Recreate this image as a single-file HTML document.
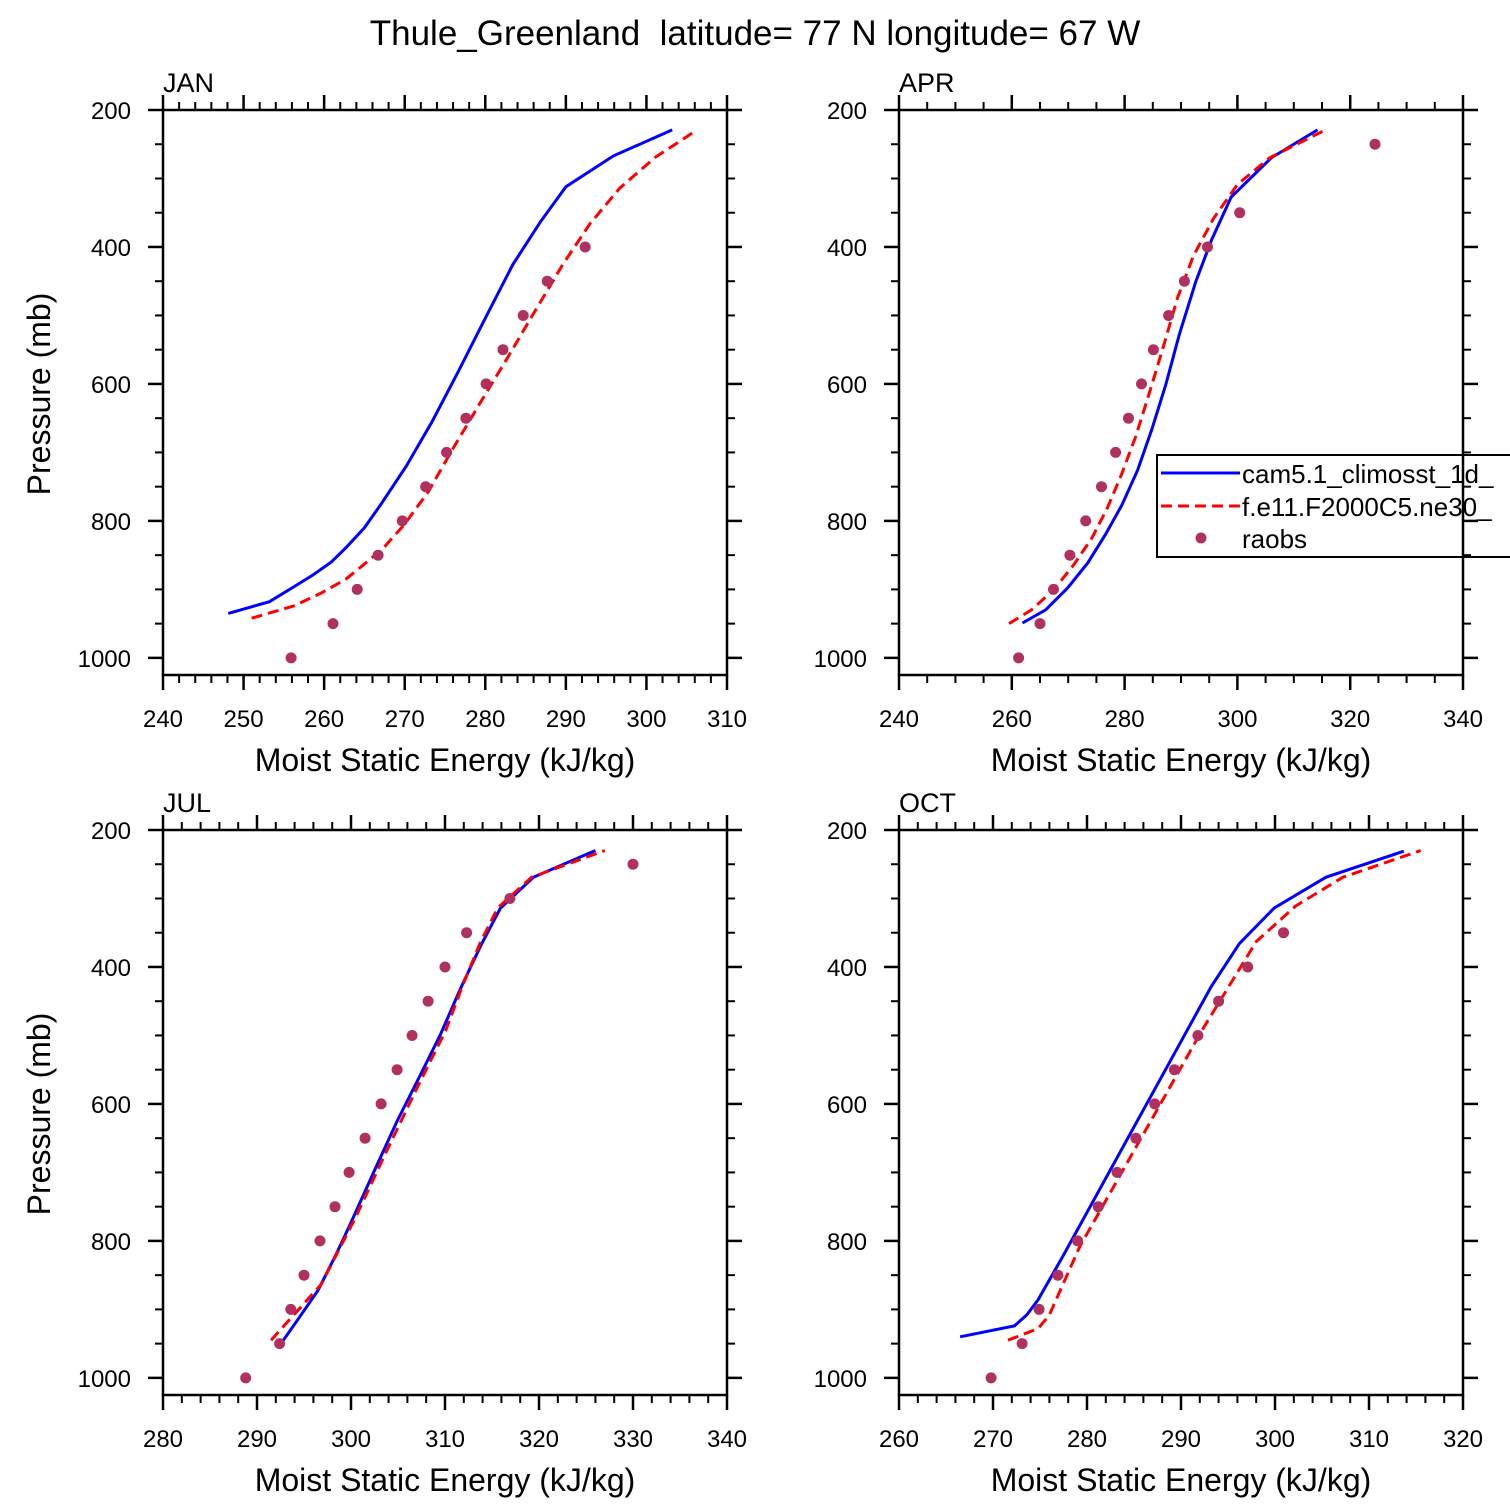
<!DOCTYPE html>
<html><head><meta charset="utf-8"><style>
html,body{margin:0;padding:0;background:#fff;}
svg{display:block;font-family:"Liberation Sans",Arial,sans-serif;}
</style></head><body>
<svg id="chart" width="1510" height="1510" viewBox="0 0 1510 1510" xmlns="http://www.w3.org/2000/svg">
<text x="755" y="45" font-size="35" text-anchor="middle" xml:space="preserve">Thule_Greenland  latitude= 77 N longitude= 67 W</text>
<g id="panels"></g>
</svg>
<script>
// ---- data (pressure in mb, MSE in kJ/kg) ----
const months = ["JAN","APR","JUL","OCT"];
const obsP = [1000,950,900,850,800,750,700,650,600,550,500,450,400,350,300,250];
// JAN
const janCamP = [935,918,898,879,860,838,810,775,720,655,583,504,426,364,312,267,229];
const janCamX = [248.1,253.2,256.0,258.6,260.9,262.8,265.0,267.1,270.2,273.4,276.6,280.0,283.4,286.8,290.0,295.9,303.2];
const janF11P = [942,924,905,885,864,839,806,758,696,629,565,499,426,366,314,269,229];
const janF11X = [251.0,256.3,259.7,262.7,264.9,267.4,269.9,272.9,275.9,279.3,282.6,285.9,289.6,293.0,296.7,301.1,306.3];
const janObsX = [255.9,261.1,264.1,266.7,269.7,272.6,275.2,277.6,280.1,282.2,284.7,287.7,292.4];
// APR
const aprCamP = [949,930,898,861,820,777,726,667,601,528,451,390,327,270,229];
const aprCamX = [261.9,266.0,269.9,273.5,276.6,279.5,282.3,284.8,287.3,289.7,292.6,295.4,298.9,306.0,314.2];
const aprF11P = [950,930,901,864,825,780,731,676,613,545,474,413,358,309,270,229];
const aprF11X = [259.5,263.5,267.4,271.0,274.2,277.0,279.5,282.0,284.4,286.9,289.4,292.2,295.8,300.0,305.7,315.6];
const aprObsP = [1000,950,900,850,800,750,700,650,600,550,500,450,400,350,250];
const aprObsX = [261.2,265.0,267.4,270.3,273.1,275.9,278.4,280.7,283.0,285.1,287.8,290.6,294.7,300.4,324.4];
// JUL
const julCamP = [949,910,872,820,776,700,625,560,499,430,369,314,269,230];
const julCamX = [292.6,294.6,296.5,298.4,299.9,302.4,304.9,307.3,309.5,311.7,313.8,315.9,319.4,326.0];
const julF11P = [945,864,768,680,580,492,430,366,314,269,230];
const julF11X = [291.5,296.8,300.4,303.4,306.9,310.1,311.8,313.7,315.6,319.2,327.0];
const julObsP = [1000,950,900,850,800,750,700,650,600,550,500,450,400,350,300,250];
const julObsX = [288.8,292.4,293.6,295.0,296.7,298.3,299.8,301.5,303.2,304.9,306.5,308.2,310.0,312.3,316.9,330.0];
// OCT
const octCamP = [940,924,908,886,823,429,366,314,269,231];
const octCamX = [266.5,272.3,273.6,274.8,277.4,293.2,296.2,299.9,305.4,313.7];
const octF11P = [945,928,908,809,491,363,311,269,230];
const octF11X = [271.6,274.8,276.0,279.2,292.3,298.0,302.2,307.2,315.5];
const octObsP = [1000,950,900,850,800,750,700,650,600,550,500,450,400,350];
const octObsX = [269.8,273.1,274.9,276.9,279.0,281.2,283.2,285.2,287.2,289.3,291.8,294.0,297.1,300.9];
// axis ranges / ticks
const janXTicks = [240,250,260,270,280,290,300,310];
const aprXTicks = [240,260,280,300,320,340];
const julXTicks = [280,290,300,310,320,330,340];
const octXTicks = [260,270,280,290,300,310,320];
const yTicks = [200,400,600,800,1000];

const NS="http://www.w3.org/2000/svg";
const root=document.getElementById('panels');
function mk(tag,attrs,parent){const e=document.createElementNS(NS,tag);for(const k in attrs)e.setAttribute(k,attrs[k]);(parent||root).appendChild(e);return e;}

const panels=[
 {name:"jan",label:"JAN",x0:163,y0:110,xt:janXTicks,minorN:5,cam:[janCamX,janCamP],f11:[janF11X,janF11P],obs:[janObsX,obsP.slice(0,janObsX.length)],ylabel:true,legend:false},
 {name:"apr",label:"APR",x0:899,y0:110,xt:aprXTicks,minorN:4,cam:[aprCamX,aprCamP],f11:[aprF11X,aprF11P],obs:[aprObsX,aprObsP],ylabel:false,legend:true},
 {name:"jul",label:"JUL",x0:163,y0:830,xt:julXTicks,minorN:5,cam:[julCamX,julCamP],f11:[julF11X,julF11P],obs:[julObsX,julObsP],ylabel:true,legend:false},
 {name:"oct",label:"OCT",x0:899,y0:830,xt:octXTicks,minorN:5,cam:[octCamX,octCamP],f11:[octF11X,octF11P],obs:[octObsX,octObsP],ylabel:false,legend:false}
];
const W=564,H=565,PMIN=200,PMAX=1025;

panels.forEach(pn=>{
  const g=mk('g',{});
  
  
  const xmin=pn.xt[0],xmax=pn.xt[pn.xt.length-1];
  const sx=v=>pn.x0+(v-xmin)/(xmax-xmin)*W;
  const sy=p=>pn.y0+(p-PMIN)/(PMAX-PMIN)*H;
  const clipId='clip-'+pn.name;
  const cp=mk('clipPath',{id:clipId},g);
  mk('rect',{x:pn.x0,y:pn.y0,width:W,height:H},cp);
  const pts=(xs,ps)=>xs.map((v,i)=>sx(v).toFixed(1)+','+sy(ps[i]).toFixed(1)).join(' ');
  const l1=mk('polyline',{points:pts(pn.cam[0],pn.cam[1]),fill:'none',stroke:'#0000ff','stroke-width':3,'clip-path':'url(#'+clipId+')'},g);
  
  
  const l2=mk('polyline',{points:pts(pn.f11[0],pn.f11[1]),fill:'none',stroke:'#ff0000','stroke-width':3,'stroke-dasharray':'11,6','clip-path':'url(#'+clipId+')'},g);
  
  
  pn.obs[0].forEach((v,i)=>{
    const c=mk('circle',{cx:sx(v).toFixed(1),cy:sy(pn.obs[1][i]).toFixed(1),r:5.5,fill:'#b03060'},g);
    
    
  });
  if(pn.legend){
    const lg=mk('g',{},g);
    
    
    mk('rect',{x:1157,y:455,width:400,height:102,fill:'none',stroke:'#000','stroke-width':2},lg);
    mk('line',{x1:1161,y1:473,x2:1240,y2:473,stroke:'#0000ff','stroke-width':3},lg);
    mk('line',{x1:1161,y1:506,x2:1240,y2:506,stroke:'#ff0000','stroke-width':3,'stroke-dasharray':'11,6'},lg);
    mk('circle',{cx:1201,cy:538,r:5.5,fill:'#b03060'},lg);
    const t1=mk('text',{x:1242,y:483,'font-size':26},lg);t1.textContent='cam5.1_climosst_1d_';
    
    
    const t2=mk('text',{x:1242,y:516,'font-size':26},lg);t2.textContent='f.e11.F2000C5.ne30_';
    
    
    const t3=mk('text',{x:1242,y:548,'font-size':26},lg);t3.textContent='raobs';
    
    
  }
  const fr=mk('rect',{x:pn.x0,y:pn.y0,width:W,height:H,fill:'none',stroke:'#000','stroke-width':2.5},g);
  
  
  const yb=pn.y0+H, xr=pn.x0+W;
  for(let i=0;i<pn.xt.length;i++){
    const v=pn.xt[i],X=sx(v);
    mk('line',{x1:X,y1:yb,x2:X,y2:yb+15,stroke:'#000','stroke-width':2.5},g);
    mk('line',{x1:X,y1:pn.y0,x2:X,y2:pn.y0-15,stroke:'#000','stroke-width':2.5},g);
    const t=mk('text',{x:X,y:yb+52,'font-size':24,'text-anchor':'middle'},g);
    t.textContent=v;
    
    
    if(i<pn.xt.length-1){
      const step=(pn.xt[i+1]-v)/pn.minorN;
      for(let k=1;k<pn.minorN;k++){
        const mx=sx(v+k*step);
        mk('line',{x1:mx,y1:yb,x2:mx,y2:yb+8,stroke:'#000','stroke-width':2},g);
        mk('line',{x1:mx,y1:pn.y0,x2:mx,y2:pn.y0-8,stroke:'#000','stroke-width':2},g);
      }
    }
  }
  for(let p=200;p<=1000;p+=50){
    const Y=sy(p), major=(p%200===0);
    const len=major?15:8;
    mk('line',{x1:pn.x0,y1:Y,x2:pn.x0-len,y2:Y,stroke:'#000','stroke-width':major?2.5:2},g);
    mk('line',{x1:xr,y1:Y,x2:xr+len,y2:Y,stroke:'#000','stroke-width':major?2.5:2},g);
  }
  yTicks.forEach(p=>{
    const t=mk('text',{x:pn.x0-32,y:sy(p)+9,'font-size':24,'text-anchor':'end'},g);
    t.textContent=p;
    
    
  });
  const lab=mk('text',{x:pn.x0,y:pn.y0-18,'font-size':27},g);
  lab.textContent=pn.label;
  
  
  const xt=mk('text',{x:pn.x0+W/2,y:yb+96,'font-size':32,'text-anchor':'middle'},g);
  xt.textContent='Moist Static Energy (kJ/kg)';
  
  
  if(pn.ylabel){
    const cy=pn.y0+284;
    const yt=mk('text',{x:50,y:cy,'font-size':32,'text-anchor':'middle',transform:'rotate(-90 50 '+cy+')'},g);
    yt.textContent='Pressure (mb)';
    
    
  }
});
</script>
</body></html>
